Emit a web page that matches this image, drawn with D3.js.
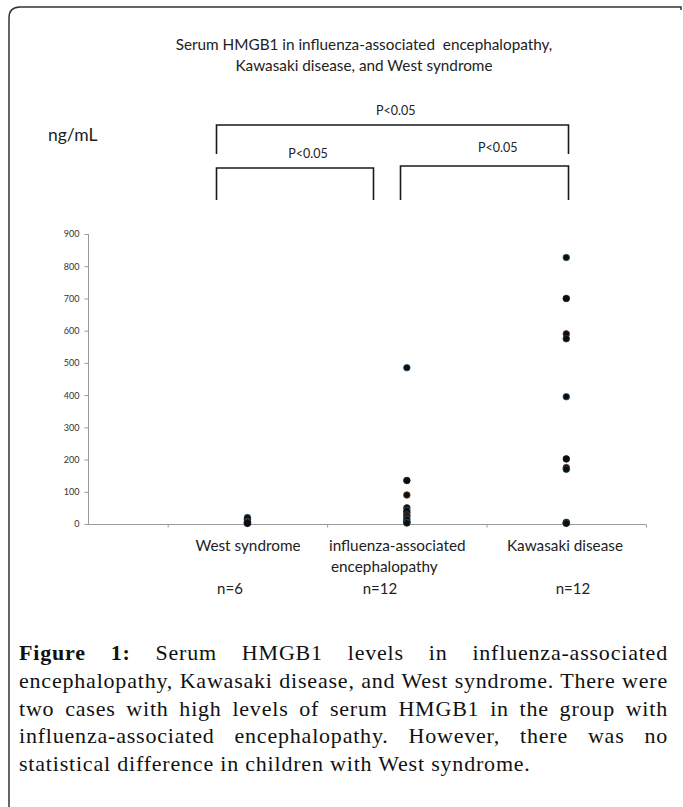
<!DOCTYPE html>
<html lang="en">
<head>
<meta charset="utf-8">
<script src="https://cdn.jsdelivr.net/npm/d3@7"></script>
<style>
body { margin: 0; background: #fff; }
#wrap { position: relative; width: 683px; height: 807px; overflow: hidden; }
svg { position: absolute; left: 0; top: 0; }
.sans { font-family: Lato, "Liberation Sans", sans-serif; fill: #222; }
.axis path, .axis line { stroke: #9a9a9a; }
.axis text { font-family: Lato, sans-serif; font-size: 9px; fill: #333; }
#caption { position: absolute; left: 19px; top: 639px; width: 649px;
  font-family: "Liberation Serif", "DejaVu Serif", serif; font-size: 22px; letter-spacing: 0.8px;
  line-height: 27.8px; color: #111; }
#caption div { text-align: justify; text-align-last: justify; white-space: nowrap; }
#caption div.last { text-align: left; text-align-last: left; }
</style>
</head>
<body>
<div id="wrap">
<svg width="683" height="807"></svg>
<div id="caption"></div>
</div>
<script>

// chart data
var groups = ["West syndrome", "influenza-associated\nencephalopathy", "Kawasaki disease"];
var groupPos = [1.5, 2.5, 3.5];
var counts = ["n=6", "n=12", "n=12"];
var westValues = [20, 14, 8, 5, 3, 2];
var influenzaValues = [485, 135, 90, 50, 42, 35, 28, 22, 15, 8, 5, 3];
var kawasakiValues = [827, 700, 590, 575, 395, 202, 175, 170, 5, 4, 3, 2];
var yTicks = [0, 100, 200, 300, 400, 500, 600, 700, 800, 900];
var xTicks = [1, 2, 3, 4];
var brackets = [
  { from: 1.5, to: 3.5, label: "P<0.05" },
  { from: 1.5, to: 2.45, label: "P<0.05" },
  { from: 2.62, to: 3.5, label: "P<0.05" }
];
var captionLines = [
  "<b>Figure 1:</b> Serum HMGB1 levels in influenza-associated",
  "encephalopathy, Kawasaki disease, and West syndrome. There were",
  "two cases with high levels of serum HMGB1 in the group with",
  "influenza-associated encephalopathy. However, there was no",
  "statistical difference in children with West syndrome."
];

var svg = d3.select("svg");

// card border (open to the right / bottom)
svg.append("path")
    .attr("d", "M9,815 V18 Q9,7 20,7 H681 V10")
    .attr("fill", "none")
    .attr("stroke", "#333")
    .attr("stroke-width", 1.5);

var x = d3.scaleLinear().domain([0.5, 4]).range([88, 646]);
var y = d3.scaleLinear().domain([0, 900]).range([524, 234]);

// title
svg.append("text")
    .attr("class", "sans")
    .attr("x", 364).attr("y", 50)
    .attr("text-anchor", "middle")
    .style("font-size", "15.3px")
    .style("white-space", "pre")
  .selectAll("tspan")
    .data(["Serum HMGB1 in influenza-associated  encephalopathy,", "Kawasaki disease, and West syndrome"])
  .enter().append("tspan")
    .attr("x", 364)
    .attr("dy", function(d, i) { return i ? 20.5 : 0; })
    .text(function(d) { return d; });

svg.append("text")
    .attr("class", "sans")
    .attr("x", 48).attr("y", 141)
    .style("font-size", "17.5px")
    .text("ng/mL");

// significance brackets
var bY = [125, 168, 166], bBottom = [154, 200, 200], lY = [115, 158, 152];
var lX = [2.43, 1.88, 3.07];
brackets.forEach(function(b, i) {
  var x0 = Math.round(x(b.from)) + 0.5 - 32, x1 = Math.round(x(b.to)) + 0.5;
  if (i === 0 || i === 1) x0 = 216.5;
  if (i === 2) x0 = 400.5;
  if (i === 0 || i === 2) x1 = 568.5;
  if (i === 1) x1 = 373.5;
  svg.append("path")
      .attr("d", "M" + x0 + "," + bBottom[i] + "V" + bY[i] + "H" + x1 + "V" + bBottom[i])
      .attr("fill", "none")
      .attr("stroke", "#1a1a1a")
      .attr("stroke-width", 1.6);
  svg.append("text")
      .attr("class", "sans")
      .attr("x", x(lX[i])).attr("y", lY[i])
      .attr("text-anchor", "middle")
      .style("font-size", "12.5px")
      .text(b.label);
});

// axes
var yAxis = svg.append("g")
    .attr("class", "axis")
    .attr("transform", "translate(88.5,0)")
    .call(d3.axisLeft(y).tickValues(yTicks).tickSize(4).tickPadding(5));
yAxis.select(".domain").attr("d", "M0," + y(900) + "V" + y(0));

var xAxis = svg.append("g")
    .attr("class", "axis")
    .attr("transform", "translate(0,524.5)")
    .call(d3.axisBottom(x).tickValues(xTicks).tickSize(3).tickFormat(""));
xAxis.select(".domain").attr("d", "M" + x(0.5) + ",0H" + x(4));

// points
var series = [westValues, influenzaValues, kawasakiValues];
var rim = d3.scaleOrdinal().range(["#2d5f7a", "#111", "#7a3d1e", "#1d3c50"]);
series.forEach(function(vals, gi) {
  svg.append("g").selectAll("circle")
      .data(vals)
    .enter().append("circle")
      .attr("cx", x(groupPos[gi]))
      .attr("cy", function(d) { return y(d); })
      .attr("r", 3.3)
      .attr("fill", "#0d0d0d")
      .attr("stroke", function(d, i) { return rim(i); })
      .attr("stroke-width", 0.8);
});

// category labels
var labelX = [248, 329, 565], labelAnchor = ["middle", "start", "middle"];
groups.forEach(function(g, i) {
  svg.append("text")
      .attr("class", "sans")
      .attr("x", labelX[i]).attr("y", 551)
      .attr("text-anchor", labelAnchor[i])
      .style("font-size", "15.3px")
    .selectAll("tspan")
      .data(g.split("\n"))
    .enter().append("tspan")
      .attr("x", function(d, j) { return labelX[i] + (j ? 2 : 0); })
      .attr("dy", function(d, j) { return j ? 20.5 : 0; })
      .text(function(d) { return d; });
});

var countX = [230, 380, 573];
counts.forEach(function(c, i) {
  svg.append("text")
      .attr("class", "sans")
      .attr("x", countX[i]).attr("y", 594)
      .attr("text-anchor", "middle")
      .style("font-size", "15px")
      .text(c);
});

// caption
d3.select("#caption").selectAll("div")
    .data(captionLines)
  .enter().append("div")
    .attr("class", function(d, i) { return i === captionLines.length - 1 ? "last" : null; })
    .html(function(d) { return d; });

</script>
</body>
</html>
